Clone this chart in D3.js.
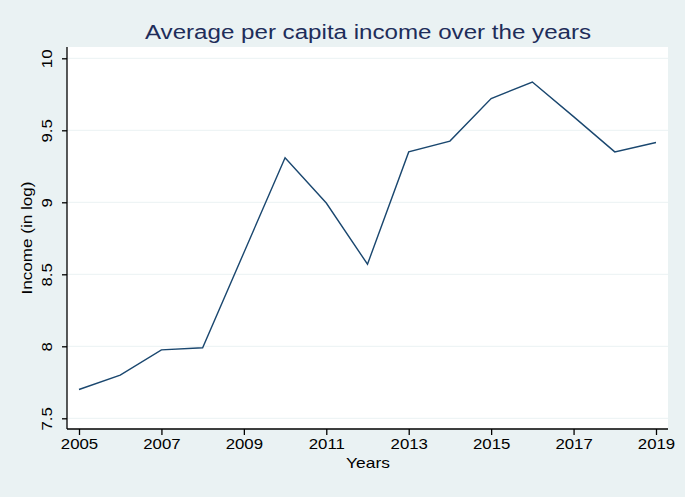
<!DOCTYPE html>
<html><head><meta charset="utf-8">
<script src="https://cdn.jsdelivr.net/npm/d3@7"></script>
<style>body{margin:0;background:#eaf2f3;} svg{display:block;font-family:"Liberation Sans",Arial,sans-serif;}</style>
</head><body>
<script>
const years = [2005,2006,2007,2008,2009,2010,2011,2012,2013,2014,2015,2016,2017,2018,2019];
const income = [7.70,7.80,7.975,7.99,8.65,9.31,8.995,8.57,9.35,9.425,9.72,9.835,9.595,9.35,9.415];
const yTicks = [7.5,8,8.5,9,9.5,10];
const xTicks = [2005,2007,2009,2011,2013,2015,2017,2019];

const W=685,H=497;
const SX=1.12;
const svg=d3.select("body").append("svg").attr("width",W).attr("height",H);
svg.append("rect").attr("width",W).attr("height",H).attr("fill","#eaf2f3");
const pl=67, pr=668, pt=47, pb=429;
svg.append("rect").attr("x",pl).attr("y",pt).attr("width",pr-pl).attr("height",pb-pt).attr("fill","#ffffff");

const x=d3.scaleLinear().domain([2005,2019]).range([79,656]);
const y=d3.scaleLinear().domain([7.5,10]).range([418.3,58.3]);

// gridlines
svg.append("g").selectAll("line").data(yTicks).join("line")
  .attr("x1",pl).attr("x2",pr).attr("y1",d=>y(d)).attr("y2",d=>y(d))
  .attr("stroke","#eaf2f3").attr("stroke-width",1);

// y axis
const ya=svg.append("g").attr("transform",`translate(${pl},0)`)
  .call(d3.axisLeft(y).tickValues(yTicks).tickSize(5).tickPadding(0).tickFormat(d3.format("~g")));
ya.select(".domain").attr("d",`M0,${pt}V${pb}`).attr("stroke","#000").attr("stroke-width",1.3);
ya.selectAll(".tick line").attr("stroke","#000").attr("stroke-width",1.3);
ya.selectAll(".tick text").attr("transform",`rotate(-90) scale(${SX},1)`).attr("x",0).attr("y",-15)
  .attr("dy",0).attr("text-anchor","middle").attr("font-size",15).attr("fill","#000");

// x axis
const xa=svg.append("g").attr("transform",`translate(0,${pb})`)
  .call(d3.axisBottom(x).tickValues(xTicks).tickSize(6).tickPadding(3).tickFormat(d3.format("d")));
xa.select(".domain").attr("d",`M${pl},0H${pr}`).attr("stroke","#000").attr("stroke-width",1.3);
xa.selectAll(".tick line").attr("stroke","#000").attr("stroke-width",1.3);
xa.selectAll(".tick text").attr("font-size",15).attr("fill","#000").attr("transform",`scale(${SX},1)`);

// line
svg.append("path").datum(years.map((d,i)=>[d,income[i]]))
  .attr("d",d3.line().x(d=>x(d[0])).y(d=>y(d[1])))
  .attr("fill","none").attr("stroke","#1a476f").attr("stroke-width",1.4);

svg.append("text").attr("transform",`translate(368,39) scale(1.15,1)`).attr("text-anchor","middle")
  .attr("font-size",21).attr("fill","#1e2d5a").text("Average per capita income over the years");
svg.append("text").attr("transform",`translate(368,468) scale(1.16,1)`).attr("text-anchor","middle")
  .attr("font-size",15).attr("fill","#000").text("Years");
svg.append("text").attr("transform",`translate(32,${(pt+pb)/2}) rotate(-90) scale(1.14,1)`).attr("text-anchor","middle")
  .attr("font-size",15).attr("fill","#000").text("Income (in log)");
</script>
</body></html>
